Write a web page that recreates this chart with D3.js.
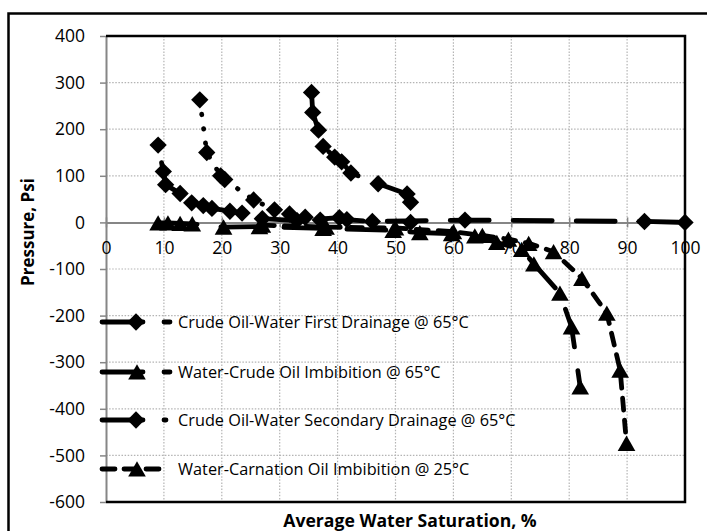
<!DOCTYPE html>
<html>
<head>
<meta charset="utf-8">
<script src="https://cdn.jsdelivr.net/npm/d3@7"></script>
<style>
  body { margin: 0; background: #fff; }
  svg { display: block; font-family: "Open Sans", "Liberation Sans", sans-serif; }
</style>
</head>
<body>
<div id="chart"></div>
<script>
// axis ticks
const xTicks = d3.range(0, 101, 10);
const yTicks = d3.range(-600, 401, 100);

// series values: [water saturation %, pressure psi]
const firstDrainage = [[9.0,166],[9.9,109],[10.3,81],[12.8,62],[14.8,42],[16.8,36],[18.3,30],[21.4,24],[23.5,20],
  [27,8],[33,4],[40.3,10],[41.6,6],[46,2],[62,5],[93,2],[100,0]];
const crudeImbibition = [[9.0,-1],[10.7,-1],[12.8,-2],[14.9,-3],[20.3,-10],[26.5,-9],[37.5,-13],[49.6,-17],
  [54.2,-22],[59.7,-24],[63.7,-29],[67.5,-43],[71.8,-58],[73.9,-89],[78.4,-152],[80.4,-224],[81.9,-353]];
const secondaryDrainage = [[35.5,279],[35.7,236],[36.7,198],[37.5,163],[39.5,140],[40.7,130],[42.3,106],
  [47.0,83],[52.0,61],[52.6,43],[52.6,0]];
const dottedDrainage = [[16.2,263],[17.4,150],[19.8,100],[20.5,92],[25.5,48],[29.1,27],[31.7,18],[34.4,11],[37,5]];
const carnationImbibition = [[27,-6],[38,-10],[50,-12],[60,-20],[65,-28],[69.5,-36],[73,-45],[77.3,-63],
  [82.2,-120],[86.5,-195],[88.8,-317],[89.9,-474]];

const legendNames = [
  "Crude Oil-Water First Drainage @ 65°C",
  "Water-Crude Oil Imbibition @ 65°C",
  "Crude Oil-Water Secondary Drainage @ 65°C",
  "Water-Carnation Oil Imbibition @ 25°C"
];

const width = 707, height = 531;
const plot = { left: 106, right: 685, top: 36, bottom: 502 };

const svg = d3.select("#chart").append("svg")
  .attr("width", width).attr("height", height);

// chart border
svg.append("rect")
  .attr("x", 8.5).attr("y", 13.5).attr("width", 720).attr("height", 540)
  .attr("fill", "#fff").attr("stroke", "#000").attr("stroke-width", 2.5);

const x = d3.scaleLinear().domain([0, 100]).range([plot.left, plot.right]);
const y = d3.scaleLinear().domain([-600, 400]).range([plot.bottom, plot.top]);

// dotted grid
const grid = svg.append("g")
  .attr("stroke", "#b4b4b4").attr("stroke-width", 1.2).attr("stroke-dasharray", "1.5,1.6");
grid.selectAll(".gx").data(xTicks.filter(d => d > 0 && d < 100)).enter().append("line")
  .attr("x1", d => x(d)).attr("x2", d => x(d)).attr("y1", plot.top).attr("y2", plot.bottom);
grid.selectAll(".gy").data(yTicks.filter(d => d > -600 && d < 400 && d !== 0)).enter().append("line")
  .attr("x1", plot.left).attr("x2", plot.right).attr("y1", d => y(d)).attr("y2", d => y(d));

// y axis
const yAxis = svg.append("g")
  .attr("transform", `translate(${plot.left},0)`)
  .call(d3.axisLeft(y).tickValues(yTicks).tickFormat(d => String(d))
    .tickSizeInner(6).tickSizeOuter(0).tickPadding(15));
yAxis.select(".domain").attr("stroke", "#868686").attr("stroke-width", 2);
yAxis.selectAll(".tick line").attr("stroke", "#868686").attr("stroke-width", 1.5);
yAxis.selectAll(".tick text").attr("font-size", "17.5px").attr("fill", "#000")
  .style("font-family", "'Open Sans', sans-serif");

// x axis at zero
const xAxis = svg.append("g")
  .attr("transform", `translate(0,${y(0)})`)
  .call(d3.axisBottom(x).tickValues(xTicks).tickFormat(d => String(d))
    .tickSizeInner(6).tickSizeOuter(0).tickPadding(13));
xAxis.select(".domain").attr("stroke", "#868686").attr("stroke-width", 2);
xAxis.selectAll(".tick line").attr("stroke", "#868686").attr("stroke-width", 1.5)
  .attr("y1", -5).attr("y2", 5);
xAxis.selectAll(".tick text").attr("font-size", "17.5px").attr("fill", "#000")
  .style("font-family", "'Open Sans', sans-serif");

// plot area frame (top, right, bottom)
svg.append("path")
  .attr("d", `M${plot.left},${plot.top}H${plot.right}V${plot.bottom}H${plot.left}`)
  .attr("fill", "none").attr("stroke", "#000").attr("stroke-width", 2.5);

// axis titles
svg.append("text")
  .attr("x", 410).attr("y", 527)
  .attr("text-anchor", "middle").attr("font-weight", "bold").attr("font-size", "17.6px")
  .text("Average Water Saturation, %");
svg.append("text")
  .attr("transform", "translate(34,232) rotate(-90)")
  .attr("text-anchor", "middle").attr("font-weight", "bold").attr("font-size", "17px")
  .text("Pressure, Psi");

// markers
const diamond = d3.symbol(d3.symbolSquare, 150)();
const triangle = d3.symbol(d3.symbolTriangle, 135)();
const markers = {
  diamond: (g) => g.attr("d", diamond).attr("transform", d => `translate(${x(d[0])},${y(d[1])}) rotate(45)`),
  triangle: (g) => g.attr("d", triangle).attr("transform", d => `translate(${x(d[0])},${y(d[1]) + 2.5})`)
};

const longDash = "39,24";
const series = [
  { data: carnationImbibition, marker: "triangle", dash: "12,10", offset: 0 },
  { data: crudeImbibition, marker: "triangle", dash: longDash, offset: 0 },
  { data: dottedDrainage, marker: "diamond", dash: "0.5,14", offset: 0 },
  { data: secondaryDrainage, marker: "diamond", dash: longDash, offset: 0 },
  { data: firstDrainage, marker: "diamond", dash: longDash, offset: 45 }
];

const line = d3.line().x(d => x(d[0])).y(d => y(d[1]));

series.forEach(s => {
  svg.append("path")
    .datum(s.data)
    .attr("fill", "none")
    .attr("stroke", "#000")
    .attr("stroke-width", 4.8)
    .attr("stroke-linecap", "round")
    .attr("stroke-linejoin", "round")
    .attr("stroke-dasharray", s.dash)
    .attr("stroke-dashoffset", s.offset)
    .attr("d", line);
});
series.forEach(s => {
  svg.append("g").selectAll("path")
    .data(s.data)
    .enter().append("path")
    .attr("fill", "#000")
    .call(markers[s.marker]);
});

// legend
const legendRows = [
  { marker: "diamond", dash: "41,21", x2: 170, y: 322 },
  { marker: "triangle", dash: "41,21", x2: 170, y: 372 },
  { marker: "diamond", dash: "41,21", x2: 166, y: 420 },
  { marker: "triangle", dash: "13,9", x2: 160, y: 469 }
];
const legend = svg.append("g");
legendRows.forEach((r, i) => {
  const g = legend.append("g");
  g.append("line")
    .attr("x1", 102).attr("x2", r.x2).attr("y1", r.y).attr("y2", r.y)
    .attr("stroke", "#000").attr("stroke-width", 4.8)
    .attr("stroke-linecap", "round").attr("stroke-dasharray", r.dash);
  const mx = 136;
  if (r.marker === "diamond") {
    g.append("path").attr("d", diamond).attr("fill", "#000")
      .attr("transform", `translate(${mx},${r.y}) rotate(45)`);
  } else {
    g.append("path").attr("d", triangle).attr("fill", "#000")
      .attr("transform", `translate(${mx + 1},${r.y + 2.5})`);
  }
  g.append("text")
    .attr("x", 178).attr("y", r.y).attr("dy", "0.35em")
    .attr("font-size", "16.3px").attr("fill", "#000")
    .text(legendNames[i]);
});
</script>
</body>
</html>
